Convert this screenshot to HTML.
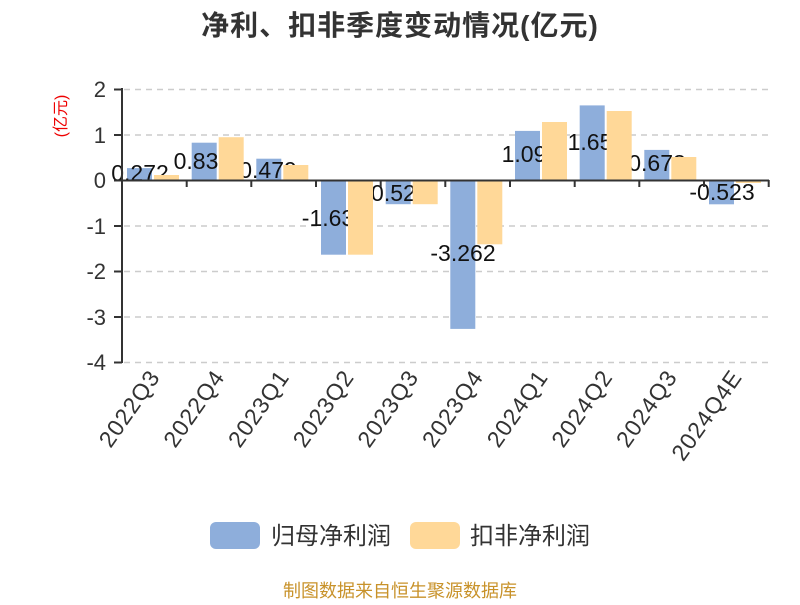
<!DOCTYPE html>
<html><head><meta charset="utf-8"><style>
body{margin:0;background:#fff;width:800px;height:600px;overflow:hidden}
svg{font-family:"Liberation Sans","Noto Sans CJK SC",sans-serif}
</style></head><body>
<svg width="800" height="600" viewBox="0 0 800 600">
<text x="400" y="35" text-anchor="middle" font-size="28" font-weight="bold" fill="#333" letter-spacing="1">净利、扣非季度变动情况(亿元)</text>
<text transform="translate(66,116) rotate(-90)" text-anchor="middle" font-size="16" fill="#e00">(亿元)</text>
<g stroke="#ccc" stroke-width="1.5" stroke-dasharray="6,5">
<line x1="124" y1="89.5" x2="768" y2="89.5"/>
<line x1="124" y1="135" x2="768" y2="135"/>
<line x1="124" y1="226" x2="768" y2="226"/>
<line x1="124" y1="271.5" x2="768" y2="271.5"/>
<line x1="124" y1="317" x2="768" y2="317"/>
<line x1="124" y1="362.5" x2="768" y2="362.5"/>
</g>
<g font-size="22" fill="#333" text-anchor="end">
<text x="106" y="97">2</text><text x="106" y="143">1</text><text x="106" y="188">0</text>
<text x="106" y="234">-1</text><text x="106" y="279">-2</text><text x="106" y="325">-3</text><text x="106" y="370">-4</text>
</g>
<g fill="#8eaedb">
<rect x="127" y="168.1" width="25" height="12.4"/>
<rect x="191.7" y="142.7" width="25" height="37.8"/>
<rect x="256.3" y="158.7" width="25" height="21.8"/>
<rect x="321" y="180.5" width="25" height="74.2"/>
<rect x="385.7" y="180.5" width="25" height="23.7"/>
<rect x="450.3" y="180.5" width="25" height="148.4"/>
<rect x="515" y="130.9" width="25" height="49.6"/>
<rect x="579.7" y="105.4" width="25" height="75.1"/>
<rect x="644.3" y="149.9" width="25" height="30.6"/>
<rect x="709" y="180.5" width="25" height="23.8"/>
</g>
<g font-size="23" fill="#111" text-anchor="middle">
<text x="140" y="181">0.272</text>
<text x="196" y="169">0.83</text>
<text x="268" y="178">0.479</text>
<text x="328" y="226">-1.63</text>
<text x="396" y="201">-0.523</text>
<text x="463" y="261">-3.262</text>
<text x="524" y="162">1.09</text>
<text x="590" y="150">1.65</text>
<text x="657" y="171">0.673</text>
<text x="722" y="200">-0.523</text>
</g>
<g fill="#ffd898">
<rect x="154" y="175" width="25" height="5.5"/>
<rect x="218.7" y="137.2" width="25" height="43.3"/>
<rect x="283.3" y="165" width="25" height="15.5"/>
<rect x="348" y="180.5" width="25" height="74.2"/>
<rect x="412.7" y="180.5" width="25" height="23.7"/>
<rect x="477.3" y="180.5" width="25" height="63.8"/>
<rect x="542" y="122" width="25" height="58.5"/>
<rect x="606.7" y="111" width="25" height="69.5"/>
<rect x="671.3" y="157" width="25" height="23.5"/>
<rect x="736" y="180.5" width="25" height="2.5"/>
</g>
<g stroke="#333" stroke-width="2" fill="none">
<line x1="122" y1="88" x2="122" y2="363"/>
<line x1="114" y1="89.5" x2="122" y2="89.5"/><line x1="114" y1="135" x2="122" y2="135"/>
<line x1="114" y1="180.5" x2="122" y2="180.5"/><line x1="114" y1="226" x2="122" y2="226"/>
<line x1="114" y1="271.5" x2="122" y2="271.5"/><line x1="114" y1="317" x2="122" y2="317"/>
<line x1="114" y1="362.5" x2="122" y2="362.5"/>
<line x1="122" y1="180.5" x2="769" y2="180.5"/>
<line x1="186.7" y1="180" x2="186.7" y2="187"/><line x1="251.3" y1="180" x2="251.3" y2="187"/>
<line x1="316" y1="180" x2="316" y2="187"/><line x1="380.7" y1="180" x2="380.7" y2="187"/>
<line x1="445.3" y1="180" x2="445.3" y2="187"/><line x1="510" y1="180" x2="510" y2="187"/>
<line x1="574.7" y1="180" x2="574.7" y2="187"/><line x1="639.3" y1="180" x2="639.3" y2="187"/>
<line x1="704" y1="180" x2="704" y2="187"/><line x1="768.7" y1="180" x2="768.7" y2="187"/>
</g>
<g font-size="23" fill="#333" text-anchor="end" letter-spacing="1">
<text transform="translate(161,377) rotate(-55)">2022Q3</text>
<text transform="translate(225.7,377) rotate(-55)">2022Q4</text>
<text transform="translate(290.3,377) rotate(-55)">2023Q1</text>
<text transform="translate(355,377) rotate(-55)">2023Q2</text>
<text transform="translate(419.7,377) rotate(-55)">2023Q3</text>
<text transform="translate(484.3,377) rotate(-55)">2023Q4</text>
<text transform="translate(549,377) rotate(-55)">2024Q1</text>
<text transform="translate(613.7,377) rotate(-55)">2024Q2</text>
<text transform="translate(678.3,377) rotate(-55)">2024Q3</text>
<text transform="translate(743,377) rotate(-55)">2024Q4E</text>
</g>
<rect x="210" y="522" width="50" height="27" rx="6" fill="#8eaedb"/>
<text x="271" y="544" font-size="24" fill="#333">归母净利润</text>
<rect x="410" y="522" width="50" height="27" rx="6" fill="#ffd898"/>
<text x="470" y="544" font-size="24" fill="#333">扣非净利润</text>
<text x="400" y="597" text-anchor="middle" font-size="18" fill="#c8922a">制图数据来自恒生聚源数据库</text>
</svg>
</body></html>
